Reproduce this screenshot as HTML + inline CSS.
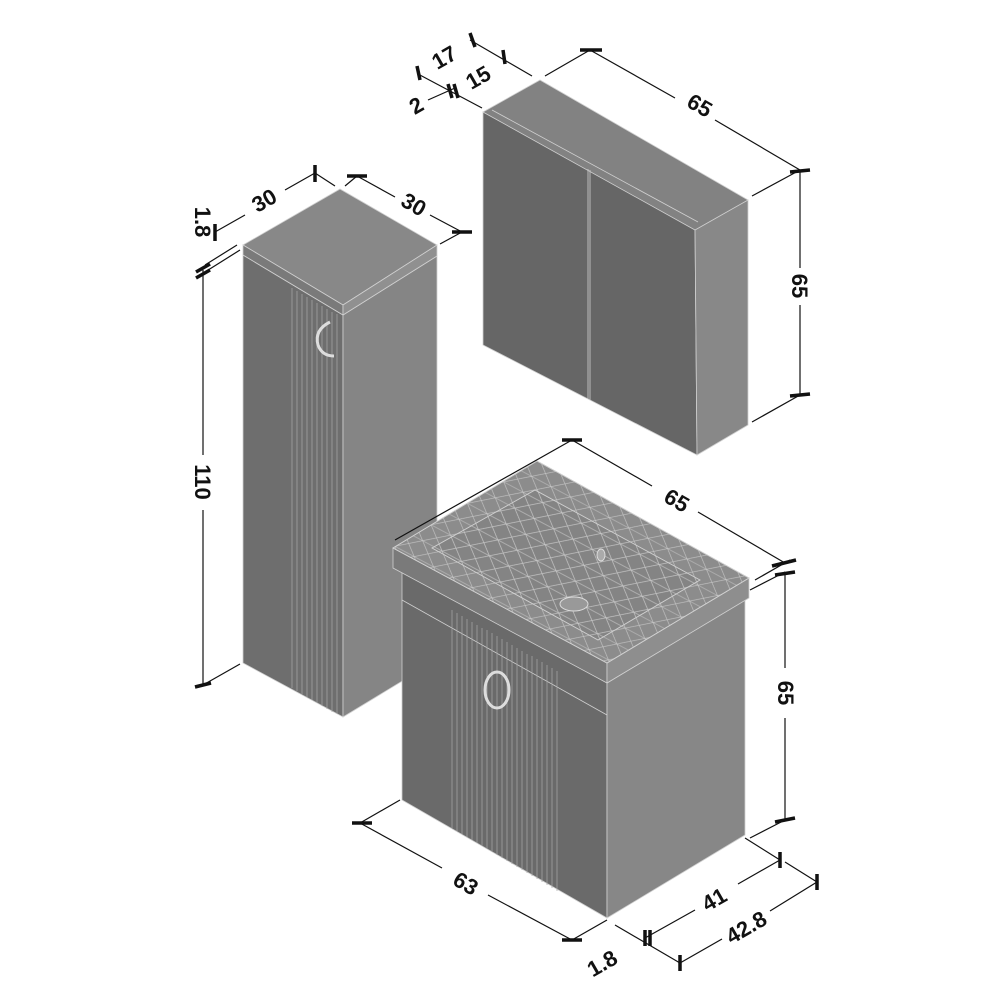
<!DOCTYPE html>
<html><head><meta charset="utf-8"><style>
html,body{margin:0;padding:0;background:#fff;}
svg{display:block}
text{font-family:"Liberation Sans",sans-serif;font-weight:bold;font-size:22px;fill:#111}
</style></head><body>
<svg width="1000" height="1000" viewBox="0 0 1000 1000" xmlns="http://www.w3.org/2000/svg">
<defs>
<pattern id="mesh" width="22" height="18" patternUnits="userSpaceOnUse" patternTransform="rotate(28)">
<path d="M0 0L22 18M22 0L0 18M0 9H22" stroke="#c8c8c8" stroke-width="0.6" fill="none"/>
</pattern>
</defs>
<g stroke="#d0d0d0" stroke-width="0.8">
<polygon points="243,255 343,315 343,717 243,663" fill="#6e6e6e"/>
<polygon points="343,315 437,256 437,660 343,717" fill="#858585"/>
<polygon points="243,245 340,189 437,245 343,305" fill="#888"/>
<polygon points="243,245 343,305 343,315 243,255" fill="#7a7a7a"/>
<polygon points="343,305 437,245 437,256 343,315" fill="#909090"/>
</g>
<g stroke="#aaa" stroke-width="0.7">
<line x1="292" y1="288" x2="292" y2="688"/><line x1="297" y1="291" x2="297" y2="691"/><line x1="302" y1="294" x2="302" y2="694"/><line x1="307" y1="297" x2="307" y2="697"/><line x1="312" y1="300" x2="312" y2="700"/><line x1="317" y1="303" x2="317" y2="703"/><line x1="322" y1="306" x2="322" y2="706"/><line x1="327" y1="309" x2="327" y2="709"/><line x1="332" y1="312" x2="332" y2="712"/><line x1="337" y1="314" x2="337" y2="714"/>
</g>
<path d="M330 322 Q314 330 318 345 Q322 356 334 356" stroke="#ddd" stroke-width="3" fill="none"/>
<g stroke="#d0d0d0" stroke-width="0.8">
<polygon points="483,112 695,228 697,455 483,345" fill="#666"/>
<polygon points="695,228 748,200 748,425 697,455" fill="#888"/>
<polygon points="483,112 540,80 748,200 695,230" fill="#828282"/>
<line x1="492" y1="110" x2="698" y2="222"/>
<line x1="590" y1="170" x2="590" y2="400"/>
<line x1="588" y1="169" x2="588" y2="399"/>
</g>
<g stroke="#d0d0d0" stroke-width="0.8">
<polygon points="402,568 607,683 607,918 402,800" fill="#6a6a6a"/>
<polygon points="607,683 745,600 745,835 607,918" fill="#878787"/>
<polygon points="393,548 607,663 607,683 393,568" fill="#7a7a7a"/>
<polygon points="607,663 749,578 749,598 607,683" fill="#8e8e8e"/>
<polygon points="393,548 537,461 749,578 607,663" fill="#8c8c8c"/>
<polygon points="393,548 537,461 749,578 607,663" fill="url(#mesh)"/>
<polygon points="432,548 535,490 700,580 598,640" fill="#7f7f7f" opacity="0.6"/>
<polygon points="432,548 535,490 700,580 598,640" fill="url(#mesh)"/>
<line x1="402" y1="600" x2="607" y2="715"/>
</g>
<g stroke="#a8a8a8" stroke-width="0.7">
<line x1="452" y1="610" x2="452" y2="828"/><line x1="457" y1="613" x2="457" y2="831"/><line x1="462" y1="616" x2="462" y2="834"/><line x1="467" y1="619" x2="467" y2="837"/><line x1="472" y1="622" x2="472" y2="840"/><line x1="477" y1="625" x2="477" y2="843"/><line x1="482" y1="628" x2="482" y2="846"/><line x1="487" y1="630" x2="487" y2="849"/><line x1="492" y1="633" x2="492" y2="852"/><line x1="497" y1="636" x2="497" y2="855"/><line x1="502" y1="639" x2="502" y2="858"/><line x1="507" y1="642" x2="507" y2="861"/><line x1="512" y1="645" x2="512" y2="864"/><line x1="517" y1="648" x2="517" y2="867"/><line x1="522" y1="651" x2="522" y2="870"/><line x1="527" y1="654" x2="527" y2="873"/><line x1="532" y1="656" x2="532" y2="876"/><line x1="537" y1="659" x2="537" y2="879"/><line x1="542" y1="662" x2="542" y2="882"/><line x1="547" y1="665" x2="547" y2="885"/><line x1="552" y1="668" x2="552" y2="888"/><line x1="557" y1="671" x2="557" y2="891"/>
</g>
<ellipse cx="574" cy="604" rx="14" ry="7" fill="#999" stroke="#ddd"/>
<ellipse cx="601" cy="555" rx="4" ry="6" fill="#aaa" stroke="#ddd"/>
<ellipse cx="497" cy="690" rx="12" ry="18" fill="none" stroke="#ddd" stroke-width="3"/>
<g stroke="#111" stroke-width="1.2" fill="none">
<line x1="545" y1="76" x2="590" y2="50"/><line x1="590" y1="50" x2="675" y2="98"/><line x1="715" y1="120" x2="800" y2="170"/><line x1="752" y1="196" x2="800" y2="170"/>
<line x1="800" y1="170" x2="800" y2="268"/><line x1="800" y1="305" x2="800" y2="395"/><line x1="752" y1="422" x2="800" y2="395"/>
<line x1="470" y1="40" x2="532" y2="76"/><line x1="418" y1="74" x2="482" y2="108"/><line x1="428" y1="100" x2="455" y2="88"/>
<line x1="215" y1="232" x2="245" y2="215"/><line x1="285" y1="190" x2="315" y2="173"/><line x1="315" y1="173" x2="335" y2="186"/>
<line x1="345" y1="186" x2="357" y2="176"/><line x1="357" y1="176" x2="395" y2="197"/><line x1="430" y1="215" x2="462" y2="232"/><line x1="440" y1="244" x2="462" y2="232"/>
<line x1="205" y1="272" x2="240" y2="250"/><line x1="205" y1="265" x2="237" y2="245"/>
<line x1="203" y1="270" x2="203" y2="455"/><line x1="203" y1="510" x2="203" y2="685"/><line x1="203" y1="685" x2="240" y2="664"/>
<line x1="395" y1="540" x2="572" y2="440"/><line x1="572" y1="440" x2="652" y2="486"/><line x1="698" y1="512" x2="785" y2="563"/><line x1="750" y1="590" x2="785" y2="572"/><line x1="755" y1="580" x2="790" y2="560"/>
<line x1="785" y1="572" x2="785" y2="668"/><line x1="785" y1="718" x2="785" y2="820"/><line x1="750" y1="838" x2="785" y2="820"/>
<line x1="360" y1="823" x2="442" y2="868"/><line x1="488" y1="895" x2="572" y2="940"/><line x1="360" y1="823" x2="400" y2="800"/><line x1="572" y1="940" x2="607" y2="920"/>
<line x1="645" y1="938" x2="695" y2="910"/><line x1="738" y1="884" x2="780" y2="860"/><line x1="745" y1="838" x2="780" y2="860"/>
<line x1="680" y1="963" x2="722" y2="939"/><line x1="770" y1="911" x2="817" y2="882"/><line x1="785" y1="862" x2="817" y2="882"/>
<line x1="615" y1="925" x2="680" y2="963"/>
</g>
<g stroke="#111" stroke-width="3.5">
<line x1="580" y1="50" x2="602" y2="50"/><line x1="790" y1="172" x2="810" y2="170"/><line x1="790" y1="396" x2="810" y2="394"/>
<line x1="315" y1="165" x2="315" y2="182"/><line x1="347" y1="176" x2="367" y2="176"/><line x1="452" y1="232" x2="472" y2="232"/>
<line x1="215" y1="224" x2="215" y2="241"/><line x1="196" y1="272" x2="210" y2="264"/><line x1="196" y1="278" x2="210" y2="270"/>
<line x1="195" y1="687" x2="211" y2="683"/><line x1="562" y1="440" x2="582" y2="440"/><line x1="772" y1="566" x2="796" y2="560"/><line x1="775" y1="575" x2="795" y2="572"/><line x1="775" y1="822" x2="795" y2="818"/>
<line x1="352" y1="823" x2="372" y2="823"/><line x1="562" y1="940" x2="582" y2="940"/><line x1="780" y1="852" x2="780" y2="868"/><line x1="817" y1="874" x2="817" y2="890"/>
<line x1="645" y1="930" x2="645" y2="946"/><line x1="650" y1="930" x2="650" y2="946"/><line x1="680" y1="955" x2="680" y2="971"/>
<line x1="470" y1="33" x2="475" y2="47"/><line x1="503" y1="50" x2="505" y2="64"/><line x1="417" y1="66" x2="420" y2="80"/><line x1="448" y1="84" x2="452" y2="98"/><line x1="454" y1="84" x2="458" y2="98"/>
</g>
<g text-anchor="middle">
<text transform="translate(696,112) rotate(30)">65</text>
<text transform="translate(792,286) rotate(90)">65</text>
<text transform="translate(448,64) rotate(-30)">17</text>
<text transform="translate(482,84) rotate(-30)">15</text>
<text transform="translate(420,112) rotate(-30)">2</text>
<text transform="translate(268,207) rotate(-30)">30</text>
<text transform="translate(410,211) rotate(30)">30</text>
<text transform="translate(195,222) rotate(90)">1.8</text>
<text transform="translate(195,482) rotate(90)">110</text>
<text transform="translate(673,507) rotate(30)">65</text>
<text transform="translate(778,693) rotate(90)">65</text>
<text transform="translate(462,890) rotate(30)">63</text>
<text transform="translate(718,906) rotate(-30)">41</text>
<text transform="translate(750,934) rotate(-30)">42.8</text>
<text transform="translate(606,970) rotate(-30)">1.8</text>
</g>
</svg>
</body></html>
